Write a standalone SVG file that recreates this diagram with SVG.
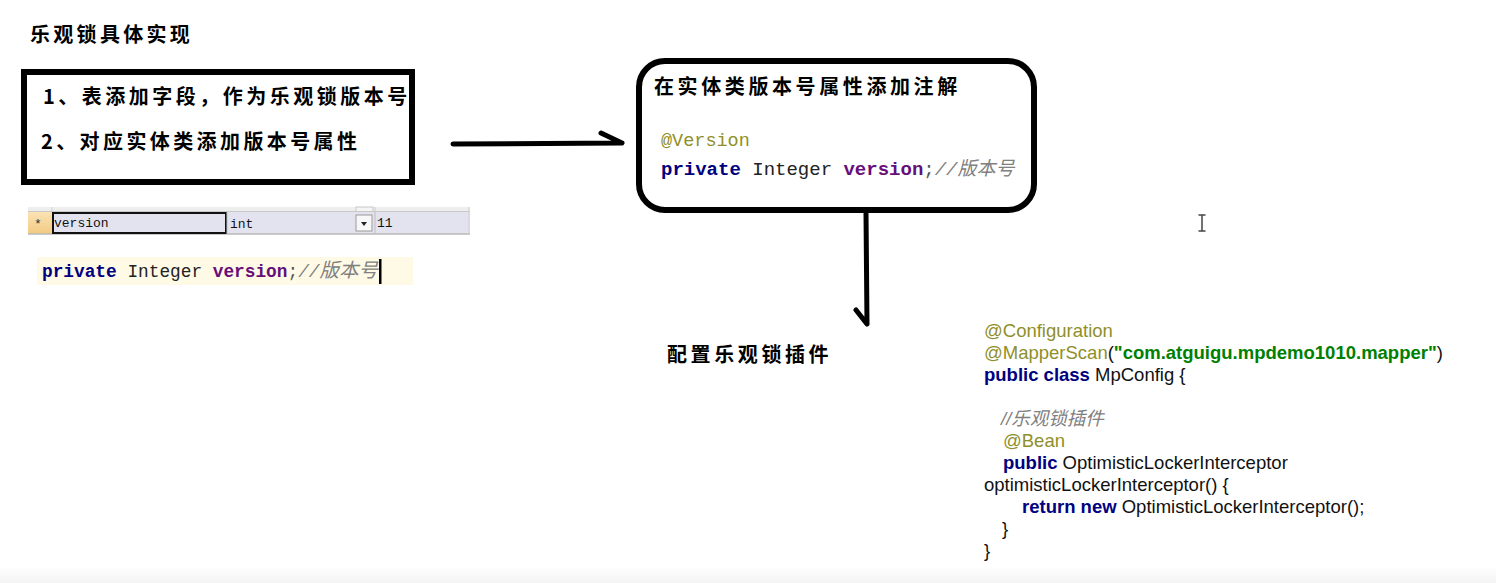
<svg xmlns="http://www.w3.org/2000/svg" width="1496" height="583" viewBox="0 0 1496 583">
<defs>
<linearGradient id="star" x1="0" y1="0" x2="0" y2="1"><stop offset="0" stop-color="#fbe3b4"/><stop offset="1" stop-color="#f2c982"/></linearGradient>
<linearGradient id="bot" x1="0" y1="0" x2="0" y2="1"><stop offset="0" stop-color="#ffffff"/><stop offset="1" stop-color="#f4f4f4"/></linearGradient>
</defs>
<style>
.cn{font-family:"Noto Sans CJK SC","Noto Sans CJK JP",sans-serif;font-weight:bold;fill:#000}
.mono{font-family:"Liberation Mono","DejaVu Sans Mono","Noto Sans CJK SC",monospace}
.kw{fill:#000080;font-weight:bold}
.pv{fill:#660e7a;font-weight:bold}
.cm{fill:#808080;font-style:italic}
.an{fill:#8f8f2a}
.code{font-family:"Liberation Sans",Arial,"Noto Sans CJK SC",sans-serif;font-size:18.5px;fill:#111}
.kb{fill:#000080;font-weight:bold}
.st{fill:#008000;font-weight:bold}
.frame{fill:#fff;stroke:#000;stroke-width:6}
.conn{fill:none;stroke:#000;stroke-width:5;stroke-linecap:round;stroke-linejoin:round}
</style>
<rect x="0" y="0" width="1496" height="583" fill="#fff"/>
<rect x="0" y="566" width="1496" height="17" fill="url(#bot)"/>

<g id="title">
<text class="cn" x="30" y="42" font-size="20" letter-spacing="3.3">乐观锁具体实现</text>
</g>

<g id="steps">
<rect class="frame" x="24" y="72" width="388" height="110"/>
<text class="cn" x="43" y="104" font-size="20" letter-spacing="3.5">1、表添加字段，作为乐观锁版本号</text>
<text class="cn" x="41" y="149" font-size="20" letter-spacing="3.4">2、对应实体类添加版本号属性</text>
</g>

<g id="table-row">
<rect x="28" y="207" width="442" height="5" fill="#eeeeee"/>
<line x1="52" y1="207" x2="52" y2="212" stroke="#cfcfcf"/>
<rect x="356" y="207" width="17" height="5" fill="#f4f4f4" stroke="#c8c8c8" stroke-width="1"/>
<line x1="375" y1="207" x2="375" y2="212" stroke="#cfcfcf"/>
<rect x="28" y="212" width="442" height="22" fill="#e3e3ef"/>
<rect x="28" y="212" width="24" height="22" fill="url(#star)"/>
<line x1="28" y1="234" x2="470" y2="234" stroke="#b8b8b8" stroke-width="1.5"/>
<line x1="28" y1="211.5" x2="470" y2="211.5" stroke="#c8c8c8" stroke-width="1"/>
<line x1="469" y1="207" x2="469" y2="234" stroke="#cfcfcf"/>
<text x="34" y="228" font-family="Liberation Mono,monospace" font-size="13" fill="#333">*</text>
<rect x="53" y="213" width="173" height="20" fill="none" stroke="#111" stroke-width="2"/>
<text class="mono" x="54" y="227" font-size="13" fill="#111">version</text>
<line x1="227" y1="212" x2="227" y2="234" stroke="#bdbdbd"/>
<text class="mono" x="230" y="228" font-size="13" fill="#111">int</text>
<rect x="356" y="215" width="16" height="16" fill="#f7f7f7" stroke="#9a9a9a" stroke-width="1"/>
<path d="M361 222 L367 222 L364 226 Z" fill="#222"/>
<line x1="375" y1="212" x2="375" y2="234" stroke="#bdbdbd"/>
<text class="mono" x="377" y="227" font-size="13" fill="#111">11</text>
</g>

<g id="code-line">
<rect x="37" y="257" width="376" height="28" fill="#fffae6"/>
<text class="mono" x="42" y="277" font-size="17.8"><tspan class="kw">private</tspan> <tspan fill="#222">Integer</tspan> <tspan class="pv">version</tspan><tspan fill="#555">;</tspan><tspan class="cm">//</tspan><tspan class="cm" font-size="19.5">版本号</tspan></text>
<rect x="379" y="259" width="2.5" height="25" fill="#000"/>
</g>

<g id="annotation">
<rect class="frame" x="639" y="61" width="395" height="149" rx="26" ry="26"/>
<text class="cn" x="654" y="94" font-size="20" letter-spacing="3.6">在实体类版本号属性添加注解</text>
<text class="mono an" x="661" y="146" font-size="18.5">@Version</text>
<text class="mono" x="661" y="175" font-size="19"><tspan class="kw">private</tspan> <tspan fill="#222">Integer</tspan> <tspan class="pv">version</tspan><tspan fill="#555">;</tspan><tspan class="cm">//版本号</tspan></text>
</g>

<g id="plugin-label">
<text class="cn" x="667" y="362" font-size="20" letter-spacing="3.6">配置乐观锁插件</text>
</g>

<g id="config-code" class="code">
<text x="984" y="337" class="an">@Configuration</text>
<text x="984" y="359"><tspan class="an">@MapperScan</tspan>(<tspan class="st">"com.atguigu.mpdemo1010.mapper"</tspan>)</text>
<text x="984" y="381"><tspan class="kb">public class</tspan> MpConfig {</text>
<text x="1001" y="425" class="cm">//乐观锁插件</text>
<text x="1003" y="447" class="an">@Bean</text>
<text x="1003" y="469"><tspan class="kb">public</tspan> OptimisticLockerInterceptor</text>
<text x="984" y="491">optimisticLockerInterceptor() {</text>
<text x="1022" y="513"><tspan class="kb">return new</tspan> OptimisticLockerInterceptor();</text>
<text x="1002" y="535">}</text>
<text x="984" y="557">}</text>
</g>

<g id="cursor">
<path d="M1202 215 L1202 231 M1198.5 215 L1205.5 215 M1198.5 231 L1205.5 231" stroke="#444" stroke-width="1.5" fill="none"/>
</g>

<g id="connectors">
<path class="conn" d="M453 144 L622 143 M601 133 L622 143"/>
<path class="conn" d="M866 213 L867 324 M856 310 L867 324"/>
</g>
</svg>
